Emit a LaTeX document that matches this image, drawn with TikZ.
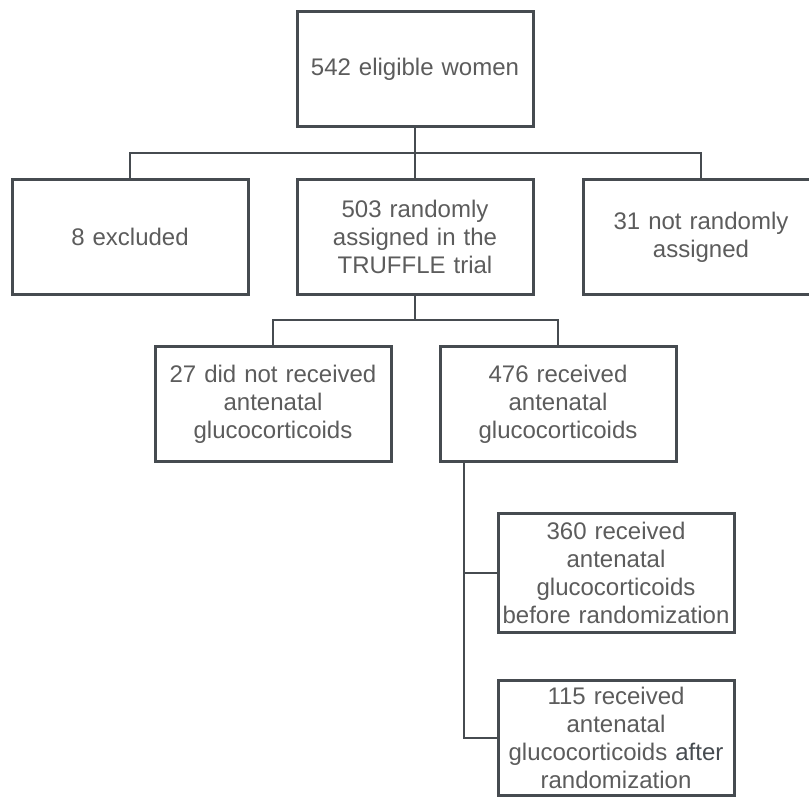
\documentclass[tikz,border=0pt]{standalone}
\usepackage{xcolor}
\usepackage{fontspec}
\setmainfont{Liberation Sans}
\usepackage{tikz}
\usetikzlibrary{shadows, backgrounds}

\definecolor{boxline}{HTML}{464B50}
\definecolor{boxtext}{HTML}{5C5C5C}

\begin{document}
\begin{tikzpicture}[x=1pt, y=-1pt, background rectangle/.style={fill=white}, show background rectangle]
\useasboundingbox (0,0) rectangle (809,799);
\clip (0,0) rectangle (809,799);
\begin{scope}[every node/.style={rectangle, draw=boxline, line width=3pt, fill=white,
      text=boxtext, align=center, text width=236pt, inner sep=0pt,
      minimum width=234pt, minimum height=115pt,
      font=\fontsize{24}{27.8}\selectfont,
      drop shadow={shadow xshift=0.8pt, shadow yshift=-1.8pt, opacity=0.3}}]
  \node (elig) at (415,69) {542 eligible women};
  \node (excl) at (130,237) {8 excluded};
  \node (rand) at (415,237) {503 randomly\\assigned in the\\TRUFFLE trial};
  \node (notr) at (701,237) {31 not randomly\\assigned};
  \node (norec) at (273,404) {27 did not received\\antenatal\\glucocorticoids};
  \node (rec) at (558,404) {476 received\\antenatal\\glucocorticoids};
  \node[minimum height=119pt] (before) at (616,573) {360 received\\antenatal\\glucocorticoids\\\mbox{before randomization}};
  \node (after) at (616,738) {115 received\\antenatal\\glucocorticoids {\color{boxline}after}\\randomization};
\end{scope}

\begin{scope}[every path/.style={draw=boxline, line width=1.6pt}]
  \coordinate (split1) at (415,153);
  \coordinate (split2) at (415,320);
  \coordinate (trunk) at (464,463);
  \path (elig) -- (split1);
  \path (excl.north) |- (split1) -| (notr.north);
  \path (split1) -- (rand);
  \path (rand) -- (split2);
  \path (norec.north) |- (split2) -| (rec.north);
  \path (trunk) |- (before.west);
  \path (trunk) |- (after.west);
\end{scope}

\end{tikzpicture}
\end{document}
